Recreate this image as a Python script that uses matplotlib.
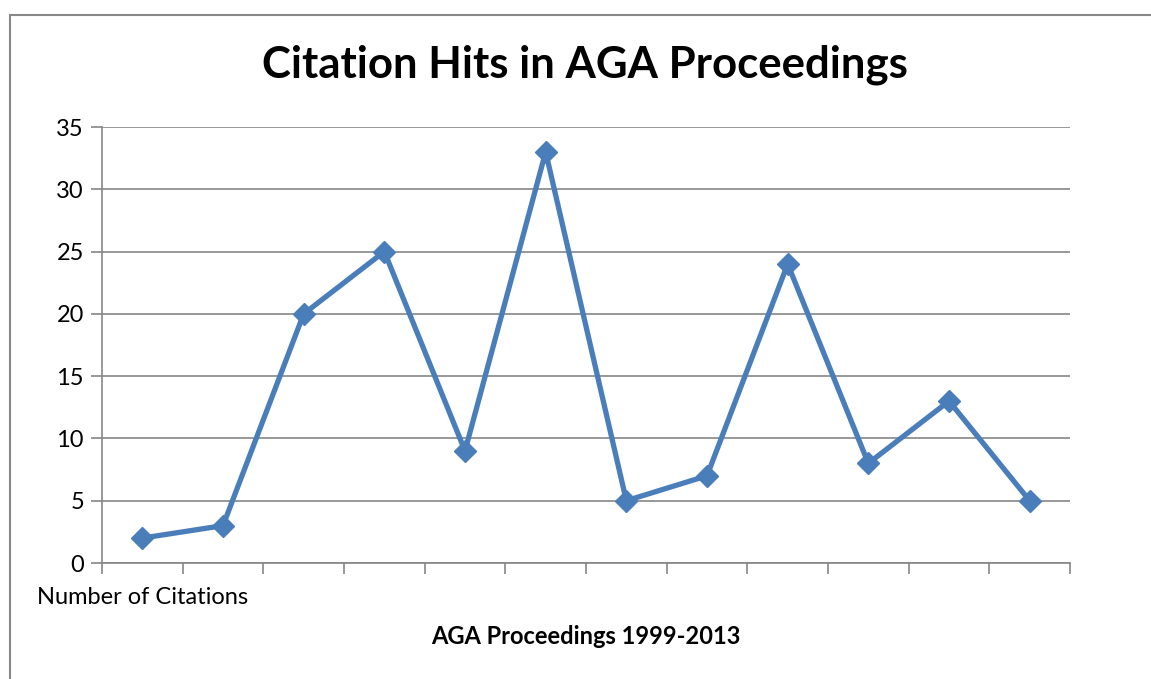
import matplotlib.pyplot as plt
from matplotlib.patches import Rectangle

citations = [2, 3, 20, 25, 9, 33, 5, 7, 24, 8, 13, 5]
category_labels = ["Number of Citations"] + [""] * 11
title = "Citation Hits in AGA Proceedings"
x_title = "AGA Proceedings 1999-2013"
y_ticks = [0, 5, 10, 15, 20, 25, 30, 35]

plt.rcParams['font.family'] = ['Lato', 'DejaVu Sans']

fig = plt.figure(figsize=(11.51, 6.79), dpi=100)
fig.patches.append(Rectangle((10 / 1151, -0.1), 1.2, 1.1 - 15 / 679,
                             transform=fig.transFigure, fill=False,
                             edgecolor='#888888', linewidth=1.5))

ax = fig.add_axes([102 / 1151, 116 / 679, 968 / 1151, 436 / 679])
n = len(citations)
xs = [i + 0.5 for i in range(n)]
ax.plot(xs, citations, color='#4A7EBB', linewidth=3.8, marker='D',
        markersize=11, solid_joinstyle='miter', zorder=3)

ax.set_xlim(0, n)
ax.set_ylim(0, 35)
ax.set_yticks(y_ticks)
ax.set_yticklabels([str(v) for v in y_ticks], fontsize=17)
ax.set_xticks(range(n + 1))
ax.set_xticklabels([])
ax.set_xticks(xs, minor=True)
ax.set_xticklabels(category_labels, minor=True, fontsize=17)
ax.tick_params(axis='x', which='minor', length=0, pad=17)
ax.tick_params(axis='x', which='major', length=8, color='#868686', width=1.2)
ax.tick_params(axis='y', length=8, color='#868686', width=1.2, pad=5)

ax.grid(axis='y', color='#868686', linewidth=1.2)
ax.set_axisbelow(True)
for s in ['top', 'right']:
    ax.spines[s].set_visible(False)
for s in ['left', 'bottom']:
    ax.spines[s].set_color('#868686')
    ax.spines[s].set_linewidth(1.2)

fig.text(585 / 1151, 1 - 65 / 679, title, ha='center', va='center',
         fontsize=31.5, fontweight='bold')
fig.text(586 / 1151, 1 - 637 / 679, x_title, ha='center', va='center',
         fontsize=17, fontweight='bold')

fig.savefig('out.png', dpi=100)
